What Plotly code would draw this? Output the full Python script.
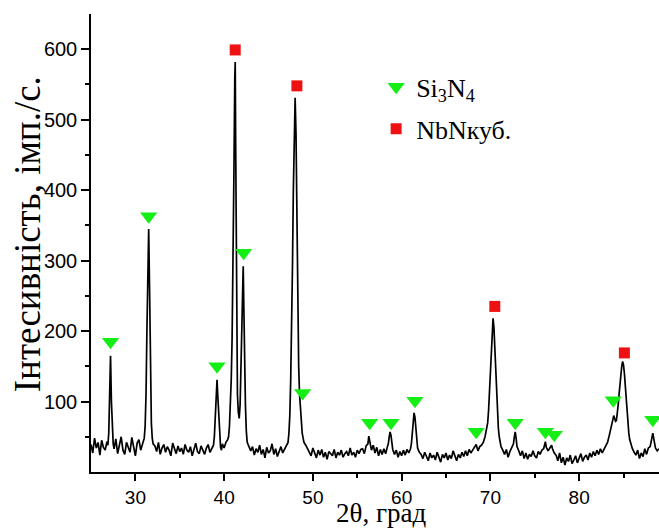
import plotly.graph_objects as go

# XRD scan (2θ, intensity)
two_theta = [
    25.0, 25.2, 25.4, 25.6, 25.8, 26.0, 26.2, 26.4, 26.6, 26.8,
    26.9, 27.0, 27.1, 27.2, 27.3, 27.4, 27.5,
    27.6, 27.8, 28.0, 28.2, 28.4, 28.6, 28.8, 29.0, 29.2, 29.4, 29.6, 29.8, 30.0, 30.2, 30.4, 30.6, 30.8,
    31.0, 31.1, 31.2, 31.3, 31.4, 31.5, 31.6, 31.7, 31.8, 31.9, 32.0,
    32.2, 32.4, 32.6, 32.8, 33.0, 33.2, 33.4, 33.6, 33.8, 34.0, 34.2, 34.4, 34.6, 34.8, 35.0, 35.2, 35.4,
    35.6, 35.8, 36.0, 36.2, 36.4, 36.6, 36.8, 37.0, 37.2, 37.4, 37.6, 37.8, 38.0, 38.2, 38.4, 38.6,
    38.8, 38.9, 39.0, 39.1, 39.2, 39.3, 39.4, 39.5, 39.6, 39.7, 39.8,
    40.0, 40.2, 40.4, 40.5, 40.6, 40.7, 40.8, 40.9, 41.0, 41.1, 41.2, 41.25, 41.3, 41.4, 41.5, 41.6, 41.7,
    41.8, 41.9, 42.0, 42.1, 42.15, 42.2, 42.3, 42.4, 42.5, 42.6, 42.8,
    43.0, 43.2, 43.4, 43.6, 43.8, 44.0, 44.2, 44.4, 44.6, 44.8, 45.0, 45.2, 45.4, 45.6, 45.8, 46.0, 46.2,
    46.4, 46.6, 46.8, 47.0,
    47.2, 47.3, 47.4, 47.5, 47.6, 47.7, 47.8, 47.9, 48.0, 48.1, 48.2, 48.3, 48.4, 48.5, 48.6, 48.7, 48.8,
    48.9, 49.0, 49.2, 49.4,
    49.6, 49.8, 50.0, 50.2, 50.4, 50.6, 50.8, 51.0, 51.2, 51.4, 51.6, 51.8, 52.0, 52.2, 52.4, 52.6, 52.8,
    53.0, 53.2, 53.4, 53.6, 53.8, 54.0, 54.2, 54.4, 54.6, 54.8, 55.0, 55.2, 55.4,
    55.6, 55.8, 56.0, 56.2, 56.3, 56.4, 56.6, 56.8, 57.0, 57.2, 57.4, 57.6, 57.8, 58.0, 58.2, 58.4, 58.5,
    58.6, 58.7, 58.8, 58.9, 59.0, 59.2, 59.4, 59.6, 59.8, 60.0, 60.2, 60.4, 60.6, 60.8, 61.0, 61.1, 61.2,
    61.3, 61.4, 61.5, 61.6, 61.7, 61.8, 62.0,
    62.2, 62.4, 62.6, 62.8, 63.0, 63.2, 63.4, 63.6, 63.8, 64.0, 64.2, 64.4, 64.6, 64.8, 65.0, 65.2, 65.4,
    65.6, 65.8, 66.0, 66.2, 66.4, 66.6, 66.8, 67.0, 67.2, 67.4, 67.6,
    67.8, 68.0, 68.2, 68.4, 68.6, 68.8, 69.0, 69.2, 69.4, 69.5, 69.6, 69.7, 69.8, 69.9, 70.0, 70.1, 70.2,
    70.3, 70.4, 70.5, 70.6, 70.7, 70.8, 70.9, 71.0, 71.1, 71.2, 71.4,
    71.6, 71.8, 72.0, 72.2, 72.4,
    72.6, 72.7, 72.8, 72.9, 73.0, 73.2,
    73.4, 73.6, 73.8, 74.0, 74.2, 74.4, 74.6, 74.8, 75.0, 75.2, 75.4, 75.6, 75.8,
    76.0, 76.1, 76.2, 76.3, 76.5, 76.7, 76.9, 77.0, 77.2,
    77.4, 77.6, 77.8, 78.0, 78.2, 78.4, 78.6, 78.8, 79.0, 79.2, 79.4, 79.6, 79.8, 80.0, 80.2, 80.4, 80.6,
    80.8, 81.0, 81.2, 81.4, 81.6, 81.8, 82.0, 82.2, 82.4, 82.6,
    82.8, 83.0, 83.2, 83.4, 83.6, 83.8, 83.9, 84.0, 84.1, 84.2, 84.3, 84.4, 84.5, 84.6, 84.7, 84.8, 84.9,
    85.0, 85.1, 85.2, 85.3, 85.4, 85.5, 85.6, 85.7, 85.8, 86.0, 86.2,
    86.4, 86.6, 86.8, 87.0, 87.2, 87.4, 87.6, 87.8,
    88.0, 88.1, 88.2, 88.3, 88.4, 88.5, 88.6, 88.8, 89.0,
]
intensity = [
    39, 27, 48, 34, 42, 24, 45, 35, 31, 43,
    38, 55, 110, 165, 100, 52, 40,
    33, 47, 26, 39, 50, 31, 25, 42, 36, 28, 49, 34, 23, 41, 46, 31, 38,
    48, 65, 110, 200, 300, 345, 260, 140, 70, 48, 40,
    37, 29, 42, 25, 34, 39, 28, 36, 31, 23, 41, 33, 26, 37, 29, 34, 25,
    39, 31, 28, 36, 23, 33, 41, 29, 26, 37, 31, 25, 34, 39, 28, 33,
    38, 50, 85, 120, 131, 105, 80, 55, 35, 31, 40,
    34, 42, 46, 50, 65, 95, 130, 190, 280, 420, 560, 582, 470, 250, 110, 85, 76,
    95, 150, 215, 280, 292, 250, 160, 95, 58, 42, 36,
    30, 36, 24, 33, 28, 38, 25, 32, 20, 35, 27, 30, 40, 25, 33, 22, 28,
    36, 27, 32, 35,
    42, 55, 80, 130, 200, 290, 400, 500, 531, 480, 340, 220, 150, 110, 85, 65, 55,
    48, 42, 38, 33,
    29, 23, 34, 26, 20, 31, 24, 32, 21, 28, 18, 29, 26, 23, 32, 20, 28,
    24, 31, 21, 26, 29, 23, 34, 24, 28, 21, 31, 26, 32,
    33, 26, 37, 40, 51, 45, 31, 38, 27, 35, 23, 32, 25, 33, 26, 36, 40,
    50, 57, 52, 40, 32, 25, 31, 21, 29, 23, 31, 24, 32, 27, 33, 40, 55,
    72, 84, 78, 58, 42, 34, 28,
    25, 19, 28, 22, 16, 27, 20, 24, 17, 28, 22, 14, 25, 20, 27, 17, 24,
    19, 30, 22, 16, 25, 20, 28, 22, 30, 23, 32,
    27, 31, 36, 39, 30, 36, 38, 42, 50, 56, 60, 70, 88, 115, 150, 185, 210,
    218, 205, 175, 145, 110, 80, 62, 50, 42, 36, 31,
    25, 32, 21, 29, 34,
    40, 50, 57, 48, 36, 30,
    23, 30, 19, 27, 18, 25, 22, 30, 23, 20, 29, 25, 31,
    33, 38, 43, 35, 30, 34, 38, 33, 27,
    24, 16, 27, 13, 21, 10, 20, 15, 24, 12, 17, 23, 13, 20, 26, 15, 21,
    24, 17, 27, 21, 29, 23, 31, 25, 33, 27,
    32, 36, 42, 52, 65, 79, 80, 76, 72, 73, 82, 95, 110, 125, 140, 150, 157,
    152, 140, 120, 100, 85, 70, 55, 46, 40, 33, 28,
    24, 31, 19, 27, 22, 33, 25, 34,
    36, 42, 50, 55, 48, 40, 34, 30, 33,
]
assert len(two_theta) == len(intensity)

# Phase markers
si3n4_x = [27.2, 31.5, 39.2, 42.2, 48.85, 56.4, 58.8, 61.5, 68.4, 72.8, 76.2, 77.2, 83.85, 88.3]
si3n4_y = [185, 363, 150, 311, 112, 70, 70, 101, 57, 70, 57, 53, 102, 74]
nbn_x = [41.25, 48.2, 70.5, 85.1]
nbn_y = [599, 548, 235, 169]

x_ticks = [30, 40, 50, 60, 70, 80]
x_minor = [35, 45, 55, 65, 75, 85]
y_ticks = [100, 200, 300, 400, 500, 600]
y_minor = [50, 150, 250, 350, 450, 550]

SERIF = "Liberation Serif, Times New Roman, serif"
SANS = "Liberation Sans, Arial, sans-serif"

fig = go.Figure()
fig.add_trace(go.Scatter(x=two_theta, y=intensity, mode="lines",
                         line=dict(color="black", width=1.7), showlegend=False,
                         hoverinfo="skip"))
fig.add_trace(go.Scatter(x=si3n4_x, y=si3n4_y, mode="markers", name="Si<sub>3</sub>N<sub>4</sub>",
                         marker=dict(symbol="triangle-down", size=15, color="#14ee14"),
                         legendgroup="a"))
fig.add_trace(go.Scatter(x=nbn_x, y=nbn_y, mode="markers", name="NbNкуб.",
                         marker=dict(symbol="square", size=11, color="#ee1111"),
                         legendgroup="b"))

fig.update_layout(
    width=659, height=529,
    margin=dict(l=91, r=0, t=14, b=57),
    paper_bgcolor="white", plot_bgcolor="white",
    legend=dict(x=0.502, y=0.892, xanchor="left", yanchor="top",
                font=dict(family=SERIF, size=26, color="black"),
                bgcolor="rgba(0,0,0,0)", tracegroupgap=5),
    xaxis=dict(range=[25, 89], showline=True, linecolor="black", linewidth=1.5,
               showgrid=False, zeroline=False, tickmode="array", tickvals=x_ticks,
               ticks="outside", ticklen=7, tickwidth=1.5, tickcolor="black",
               tickfont=dict(family=SANS, size=19, color="black"),
               minor=dict(tickmode="array", tickvals=x_minor, ticks="outside",
                          ticklen=4, tickwidth=1.5, tickcolor="black")),
    yaxis=dict(range=[0, 650], showline=True, linecolor="black", linewidth=1.5,
               showgrid=False, zeroline=False, tickmode="array", tickvals=y_ticks,
               ticks="outside", ticklen=8, tickwidth=1.5, tickcolor="black",
               tickfont=dict(family=SANS, size=20, color="black"),
               minor=dict(tickmode="array", tickvals=y_minor, ticks="outside",
                          ticklen=4, tickwidth=1.5, tickcolor="black")),
    annotations=[
        dict(text="Інтесивність, імп./с.", xref="paper", yref="paper",
             x=-0.112, y=0.52, xanchor="center", yanchor="middle", textangle=-90,
             showarrow=False, font=dict(family=SERIF, size=37, color="black")),
        dict(text="2θ, град", xref="paper", yref="paper",
             x=0.511, y=-0.09, xanchor="center", yanchor="middle",
             showarrow=False, font=dict(family=SERIF, size=27, color="black")),
    ],
)

fig.write_html("out.html", config={"displayModeBar": False},
               post_script="document.body.style.margin='0';document.body.style.overflow='hidden';")
